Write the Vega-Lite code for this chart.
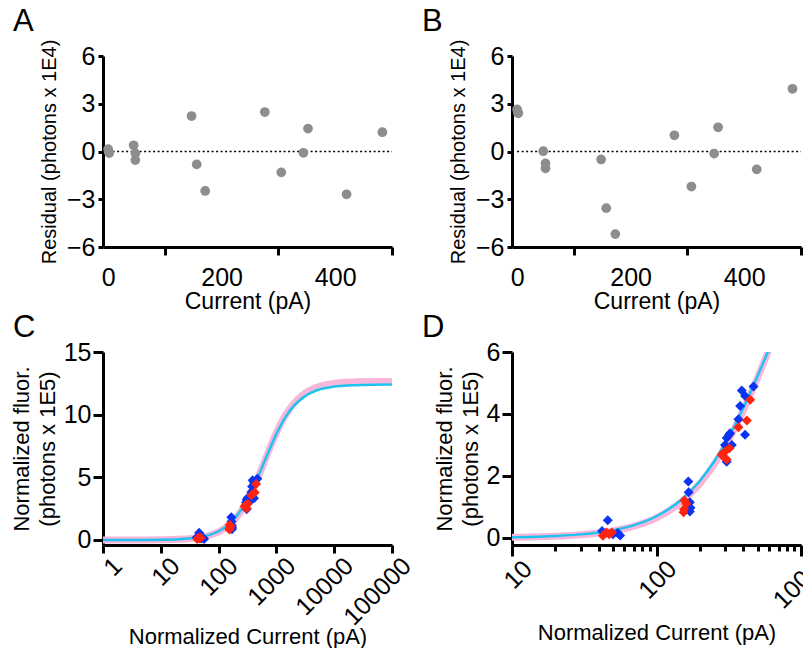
{
"$schema":"https://vega.github.io/schema/vega-lite/v6.json",
"padding":{"left":10,"top":6,"right":0,"bottom":0},
"background":"white",
"config":{
 "font":"Liberation Sans",
 "view":{"stroke":null},
 "axis":{"grid":false,"domainColor":"#000","domainWidth":3,"tickColor":"#000","tickWidth":3,"labelColor":"#000","titleColor":"#000","labelFontSize":25,"titleFontWeight":"normal","labelFont":"Liberation Sans","titleFont":"Liberation Sans"},
 "title":{"fontSize":31,"fontWeight":"normal","anchor":"start","frame":"group","color":"#000","font":"Liberation Sans"}
},
"datasets":{
 "zero":[{"I":0,"I2":500,"R":0}],
 "resA":[{"I":0,"R":0.15},{"I":1,"R":0.0},{"I":2,"R":-0.1},{"I":45,"R":0.39},{"I":48,"R":-0.12},{"I":48,"R":-0.54},{"I":147,"R":2.23},{"I":156,"R":-0.81},{"I":171,"R":-2.48},{"I":276,"R":2.48},{"I":305,"R":-1.31},{"I":344,"R":-0.08},{"I":352,"R":1.44},{"I":420,"R":-2.69},{"I":483,"R":1.21}],
 "resB":[{"I":0,"R":2.65},{"I":1,"R":2.5},{"I":2,"R":2.4},{"I":46,"R":0.02},{"I":50,"R":-0.75},{"I":50,"R":-1.06},{"I":148,"R":-0.5},{"I":157,"R":-3.56},{"I":173,"R":-5.19},{"I":277,"R":1.02},{"I":307,"R":-2.2},{"I":347,"R":-0.13},{"I":354,"R":1.52},{"I":422,"R":-1.12},{"I":485,"R":3.94}],
 "pts":[
  {"I":42,"F":0.22,"s":"blue"},{"I":46,"F":0.57,"s":"blue"},{"I":50,"F":0.12,"s":"blue"},{"I":54,"F":0.16,"s":"blue"},{"I":56,"F":0.08,"s":"blue"},
  {"I":166,"F":1.82,"s":"blue"},{"I":167,"F":1.47,"s":"blue"},{"I":170,"F":1.15,"s":"blue"},{"I":172,"F":0.97,"s":"blue"},{"I":170,"F":0.85,"s":"blue"},
  {"I":298,"F":3.0,"s":"blue"},{"I":306,"F":3.22,"s":"blue"},{"I":318,"F":3.33,"s":"blue"},{"I":306,"F":2.46,"s":"blue"},{"I":332,"F":3.0,"s":"blue"},{"I":323,"F":3.38,"s":"blue"},
  {"I":369,"F":3.83,"s":"blue"},{"I":379,"F":4.26,"s":"blue"},{"I":389,"F":4.76,"s":"blue"},{"I":410,"F":4.58,"s":"blue"},{"I":410,"F":3.33,"s":"blue"},{"I":469,"F":4.89,"s":"blue"},
  {"I":42.6,"F":0.07,"s":"red"},{"I":45,"F":0.17,"s":"red"},{"I":47,"F":0.12,"s":"red"},{"I":49,"F":0.17,"s":"red"},
  {"I":156,"F":1.21,"s":"red"},{"I":155,"F":0.92,"s":"red"},{"I":154,"F":0.83,"s":"red"},{"I":161,"F":1.1,"s":"red"},
  {"I":283,"F":2.69,"s":"red"},{"I":290,"F":2.63,"s":"red"},{"I":298,"F":2.79,"s":"red"},{"I":306,"F":2.53,"s":"red"},{"I":320,"F":2.89,"s":"red"},
  {"I":369,"F":3.57,"s":"red"},{"I":422,"F":3.79,"s":"red"},{"I":445,"F":4.46,"s":"red"}
 ],
 "cyan":[{"I":1,"F":0.0006},{"I":2,"F":0.0017},{"I":5,"F":0.0071},{"I":10,"F":0.021},{"I":20,"F":0.061},{"I":30,"F":0.113},{"I":50,"F":0.248},{"I":70,"F":0.411},{"I":100,"F":0.698},{"I":150,"F":1.248},{"I":200,"F":1.845},{"I":250,"F":2.458},{"I":300,"F":3.063},{"I":400,"F":4.206},{"I":500,"F":5.217},{"I":600,"F":6.092},{"I":700,"F":6.834},{"I":800,"F":7.468},{"I":1000,"F":8.465},{"I":1500,"F":9.94},{"I":2000,"F":10.7},{"I":3000,"F":11.42},{"I":5000,"F":11.95},{"I":10000,"F":12.24},{"I":20000,"F":12.34},{"I":50000,"F":12.39},{"I":100000,"F":12.4}],
 "pink":[{"I":1,"F":0.0005},{"I":2,"F":0.0014},{"I":5,"F":0.006},{"I":10,"F":0.018},{"I":20,"F":0.053},{"I":30,"F":0.101},{"I":50,"F":0.224},{"I":70,"F":0.377},{"I":100,"F":0.647},{"I":150,"F":1.174},{"I":200,"F":1.757},{"I":250,"F":2.364},{"I":300,"F":2.969},{"I":400,"F":4.127},{"I":500,"F":5.167},{"I":600,"F":6.074},{"I":700,"F":6.852},{"I":800,"F":7.517},{"I":1000,"F":8.55},{"I":1500,"F":10.1},{"I":2000,"F":10.9},{"I":3000,"F":11.65},{"I":5000,"F":12.18},{"I":10000,"F":12.49},{"I":20000,"F":12.6},{"I":50000,"F":12.64},{"I":100000,"F":12.65}]
},
"columns":2,
"spacing":{"row":105,"column":120},
"bounds":"flush",
"concat":[
 {"width":289,"height":191,
  "title":{"text":"A","dx":-90,"offset":-23,"baseline":"alphabetic"},
  "layer":[
   {"data":{"name":"zero"},"mark":{"type":"rule","strokeDash":[2,2.5],"strokeWidth":1.6,"color":"#000"},
    "encoding":{"x":{"field":"I","type":"quantitative"},"x2":{"field":"I2"},"y":{"field":"R","type":"quantitative"}}},
   {"data":{"name":"resA"},"mark":{"type":"circle","size":95,"color":"#8d8d8d","opacity":1},
    "encoding":{
     "x":{"field":"I","type":"quantitative","scale":{"domain":[-9,500],"nice":false,"zero":false},
      "axis":{"title":"Current (pA)","titleFontSize":23,"values":[0,100,200,300,400,500],"labelExpr":"datum.value % 200 === 0 ? datum.label : ''","tickOpacity":{"condition":{"test":"datum.value % 200 === 0","value":0},"value":1},"tickSize":8,"labelPadding":10,"titlePadding":0,"labelFlush":false,"labelOverlap":false}},
     "y":{"field":"R","type":"quantitative","scale":{"domain":[-6,6],"nice":false},
      "axis":{"title":"Residual (photons x 1E4)","titleFontSize":20,"values":[-6,-3,0,3,6],"tickSize":5,"labelPadding":3,"titlePadding":7}}}}
  ]},
 {"width":289,"height":191,
  "title":{"text":"B","dx":-90,"offset":-23,"baseline":"alphabetic"},
  "layer":[
   {"data":{"name":"zero"},"mark":{"type":"rule","strokeDash":[2,2.5],"strokeWidth":1.6,"color":"#000"},
    "encoding":{"x":{"field":"I","type":"quantitative"},"x2":{"field":"I2"},"y":{"field":"R","type":"quantitative"}}},
   {"data":{"name":"resB"},"mark":{"type":"circle","size":95,"color":"#8d8d8d","opacity":1},
    "encoding":{
     "x":{"field":"I","type":"quantitative","scale":{"domain":[-9,500],"nice":false,"zero":false},
      "axis":{"title":"Current (pA)","titleFontSize":23,"values":[0,100,200,300,400,500],"labelExpr":"datum.value % 200 === 0 ? datum.label : ''","tickOpacity":{"condition":{"test":"datum.value % 200 === 0","value":0},"value":1},"tickSize":8,"labelPadding":10,"titlePadding":0,"labelFlush":false,"labelOverlap":false}},
     "y":{"field":"R","type":"quantitative","scale":{"domain":[-6,6],"nice":false},
      "axis":{"title":"Residual (photons x 1E4)","titleFontSize":20,"values":[-6,-3,0,3,6],"tickSize":5,"labelPadding":3,"titlePadding":7}}}}
  ]},
 {"width":289,"height":193,
  "title":{"text":"C","dx":-90,"offset":-27.5,"baseline":"alphabetic"},
  "encoding":{
   "x":{"field":"I","type":"quantitative","scale":{"type":"log","domain":[1,100000],"nice":false},
    "axis":{"title":"Normalized Current (pA)","titleFontSize":22,"values":[1,10,100,1000,10000,100000],"format":"d","labelAngle":-45,"tickSize":8,"labelPadding":0,"labelOffset":6,"titlePadding":-3,"labelFlush":false,"labelOverlap":false}},
   "y":{"field":"F","type":"quantitative","scale":{"domain":[-0.4,15],"nice":false,"zero":false},
    "axis":{"title":["Normalized fluor.","(photons x 1E5)"],"titleFontSize":22,"titleLineHeight":26,"values":[0,5,10,15],"tickSize":10,"labelPadding":2,"titlePadding":4}}},
  "layer":[
   {"data":{"name":"pink"},"mark":{"type":"line","color":"#f8b6da","strokeWidth":7,"interpolate":"monotone","clip":true}},
   {"data":{"name":"cyan"},"mark":{"type":"line","color":"#1ec4f0","strokeWidth":2.5,"interpolate":"monotone","clip":true}},
   {"data":{"name":"pts"},"mark":{"type":"point","shape":"diamond","filled":true,"size":100,"opacity":1,"strokeWidth":0},
    "encoding":{"color":{"field":"s","type":"nominal","scale":{"domain":["blue","red"],"range":["#0a34f2","#ff2410"]},"legend":null}}}
  ]},
 {"width":289,"height":193,
  "title":{"text":"D","dx":-90,"offset":-27.5,"baseline":"alphabetic"},
  "encoding":{
   "x":{"field":"I","type":"quantitative","scale":{"type":"log","domain":[10,1000],"nice":false},
    "axis":{"title":"Normalized Current (pA)","titleFontSize":22,"values":[10,20,30,40,50,60,70,80,90,100,200,300,400,500,600,700,800,900,1000],"format":"d","labelExpr":"datum.value == 10 || datum.value == 100 || datum.value == 1000 ? datum.label : ''","tickSize":{"condition":{"test":"datum.value == 10 || datum.value == 100 || datum.value == 1000","value":11},"value":6},"labelAngle":-45,"labelPadding":0,"labelOffset":7,"titlePadding":9,"labelFlush":false,"labelOverlap":false}},
   "y":{"field":"F","type":"quantitative","scale":{"domain":[-0.23,6],"nice":false,"zero":false},
    "axis":{"title":["Normalized fluor.","(photons x 1E5)"],"titleFontSize":22,"titleLineHeight":26,"values":[0,2,4,6],"tickSize":10,"labelPadding":2,"titlePadding":4}}},
  "layer":[
   {"data":{"name":"pink"},"mark":{"type":"line","color":"#f8b6da","strokeWidth":7,"interpolate":"monotone","clip":true}},
   {"data":{"name":"cyan"},"mark":{"type":"line","color":"#1ec4f0","strokeWidth":2.5,"interpolate":"monotone","clip":true}},
   {"data":{"name":"pts"},"mark":{"type":"point","shape":"diamond","filled":true,"size":100,"opacity":1,"strokeWidth":0,"clip":true},
    "encoding":{"color":{"field":"s","type":"nominal","scale":{"domain":["blue","red"],"range":["#0a34f2","#ff2410"]},"legend":null}}}
  ]}
]
}
